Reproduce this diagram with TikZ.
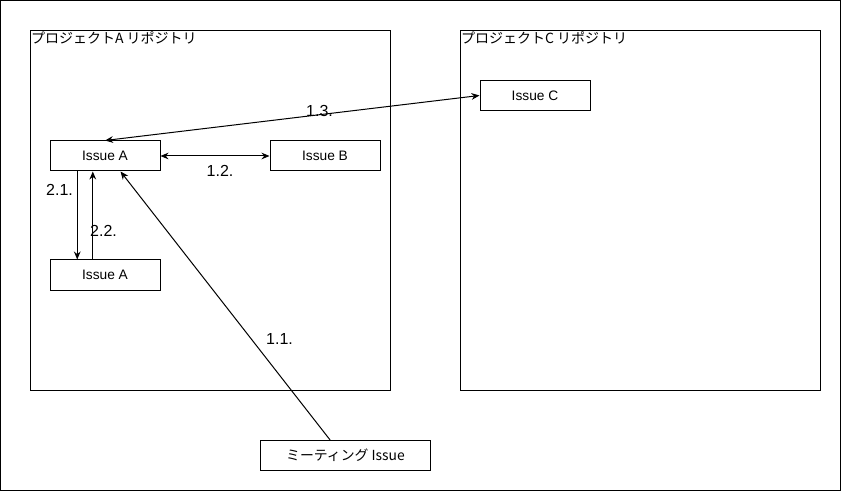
\documentclass[tikz,border=0pt]{standalone}
\usepackage{fontspec}
\setmainfont{Liberation Sans}
\newfontfamily\jp{Noto Sans CJK JP}
\usepackage{tikz}
\usetikzlibrary{arrows.meta,positioning,calc}

\tikzset{
  issue/.style={draw, line width=0.75pt, minimum width=82.5pt, minimum height=22.5pt, inner sep=0pt, font=\fontsize{10.3}{12}\selectfont},
  repo/.style={draw, line width=0.75pt, minimum width=270pt, minimum height=269.25pt, inner sep=0pt},
  repolabel/.style={anchor=north west, inner sep=1pt, font=\jp\fontsize{10.5}{12}\selectfont},
  step label/.style={font=\fontsize{12}{14}\selectfont, inner sep=0pt},
  link/.style={line width=0.75pt},
}

\begin{document}
\begin{tikzpicture}[x=0.75pt, y=-0.75pt, >={Stealth[length=6pt,width=5pt]}]
\useasboundingbox (0,0) rectangle (841,491);
\draw[line width=1pt] (0.5,0.5) rectangle (840.5,490.5);
% repositories
\node[repo] (repoA) at (210,210.5) {};
\node[repo] (repoC) at (640,210.5) {};
\node[repolabel] (repoAlabel) at (repoA.north west) {プロジェクトA リポジトリ};
\node[repolabel] (repoClabel) at (repoC.north west) {プロジェクトC リポジトリ};
% issues
\node[issue] (issueA) at (105,156) {Issue A};
\node[issue] (issueB) at (325,156) {Issue B};
\node[issue] (issueA2) at (105,275) {Issue A};
\node[issue] (issueC) at (535,95.5) {Issue C};
\node[issue, minimum width=127.5pt, font=\jp\fontsize{10.4}{12}\selectfont] (meeting) at (345.5,455.5) {ミーティング Issue};
% attach points
\coordinate (down1) at ($(issueA.south west)!0.25!(issueA.south east)$);
\coordinate (up1) at ($(issueA.south west)!0.39!(issueA.south east)$);
\coordinate (meetA) at ($(issueA.south west)!0.64!(issueA.south east)$);
\coordinate (meetTop) at ($(meeting.north west)!0.41!(meeting.north east)$);
% connectors
\draw[link, <->] (issueC.west) -- (issueA.north);
\draw[link, <->] (issueA.east) -- (issueB.west);
\draw[link, ->] (down1) -- (down1 |- issueA2.north);
\draw[link, <-] (up1) -- (up1 |- issueA2.north);
\draw[link, ->] (meetTop) -- (meetA);
% step labels
\node[step label] (l13) at (319.5,111) {1.3.};
\node[step label] (l12) at (220,171) {1.2.};
\node[step label] (l21) at (59.5,190) {2.1.};
\node[step label] (l22) at (103.5,231) {2.2.};
\node[step label] (l11) at (279.5,339) {1.1.};
\end{tikzpicture}
\end{document}
